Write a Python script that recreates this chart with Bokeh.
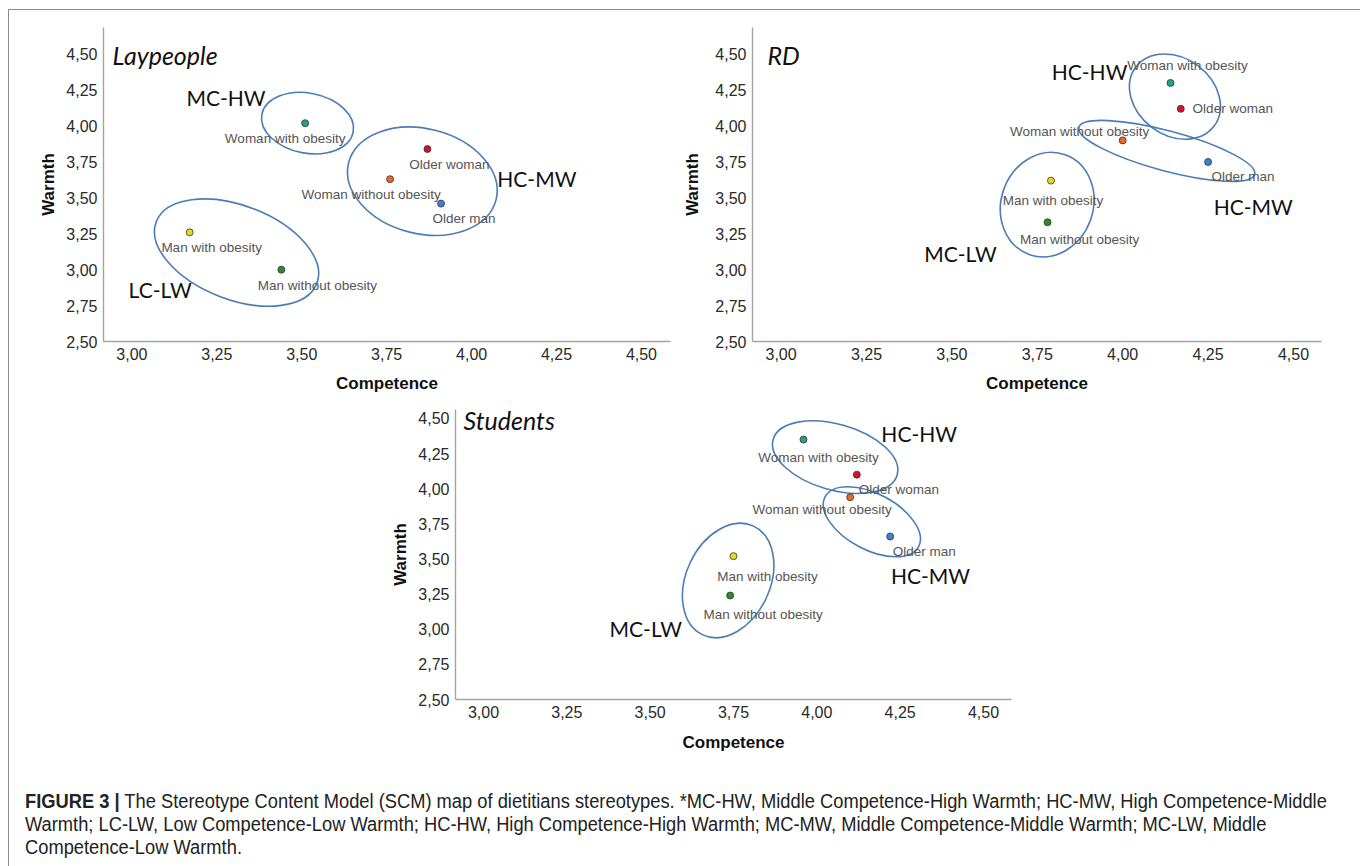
from bokeh.plotting import figure
from bokeh.layouts import column, row
from bokeh.models import FixedTicker, ColumnDataSource, Div, Range1d
from bokeh.embed import file_html
from bokeh.resources import INLINE
from bokeh.core.properties import value

# ---------------- data ----------------
stereotypes = ["Woman with obesity", "Older woman", "Woman without obesity",
               "Older man", "Man with obesity", "Man without obesity"]
point_colors = ["#1fa38c", "#d2122e", "#e86a2c", "#3e7fd6", "#e6d81e", "#2b8a2b"]

tick_values = [2.50, 2.75, 3.00, 3.25, 3.50, 3.75, 4.00, 4.25, 4.50]
tick_labels = ["2,50", "2,75", "3,00", "3,25", "3,50", "3,75", "4,00", "4,25", "4,50"]

# Laypeople
lay_competence = [3.51, 3.87, 3.76, 3.91, 3.17, 3.44]
lay_warmth = [4.02, 3.84, 3.63, 3.46, 3.26, 3.00]
lay_groups = ["MC-HW", "HC-MW", "LC-LW"]
lay_group_cx = [3.517, 3.855, 3.308]
lay_group_cy = [4.020, 3.616, 3.119]
lay_group_lx = [3.277, 4.192, 3.083]
lay_group_ly = [4.199, 3.633, 2.861]

# RD
rd_competence = [4.14, 4.17, 4.00, 4.25, 3.79, 3.78]
rd_warmth = [4.30, 4.12, 3.90, 3.75, 3.62, 3.33]
rd_groups = ["HC-HW", "HC-MW", "MC-LW"]
rd_group_cx = [4.153, 4.129, 3.779]
rd_group_cy = [4.205, 3.827, 3.453]
rd_group_lx = [3.903, 4.382, 3.525]
rd_group_ly = [4.378, 3.438, 3.113]

# Students
stu_competence = [3.96, 4.12, 4.10, 4.22, 3.75, 3.74]
stu_warmth = [4.35, 4.10, 3.94, 3.66, 3.52, 3.24]
stu_groups = ["HC-HW", "HC-MW", "MC-LW"]
stu_group_cx = [4.055, 4.165, 3.734]
stu_group_cy = [4.225, 3.765, 3.347]
stu_group_lx = [4.307, 4.341, 3.487]
stu_group_ly = [4.391, 3.383, 3.003]

caption_bold = "FIGURE 3 |"
caption_lines = [
    " The Stereotype Content Model (SCM) map of dietitians stereotypes. *MC-HW, Middle Competence-High Warmth; HC-MW, High Competence-Middle",
    "Warmth; LC-LW, Low Competence-Low Warmth; HC-HW, High Competence-High Warmth; MC-MW, Middle Competence-Middle Warmth; MC-LW, Middle",
    "Competence-Low Warmth.",
]

# ---------------- styles ----------------
ELL_COLOR = "#4a7db5"
AXIS_COLOR = "#a3a3a3"
TICK_FONT = "Liberation Sans"

lay_style = dict(
    ell_w=[93, 152, 172], ell_h=[60, 105, 94], ell_a=[-11, -14, -21],
    lab_dx=[-20, 22, -19, 23, 22, 36], lab_dy=[15, 15, 15, 15, 15, 16],
    width=672, height=388, mbl=95, mbr=10, mbt=18, mbb=56,
    xr=(2.9164, 4.5855), yr=(2.50, 4.686), title_dx=9, title_dy=27,
    ylab_standoff=5, xlab_standoff=11,
)
rd_style = dict(
    ell_w=[98, 182, 106], ell_h=[77, 40, 92], ell_a=[-37, -15, 70],
    lab_dx=[17, 52, -43, 35, 2, 32], lab_dy=[-17, 0, -9, 15, 20, 17],
    width=672, height=388, mbl=70, mbr=31, mbt=18, mbb=56,
    xr=(2.9163, 4.582), yr=(2.50, 4.686), title_dx=15, title_dy=27,
    ylab_standoff=10, xlab_standoff=11,
)
stu_style = dict(
    ell_w=[129, 106, 120], ell_h=[66, 56, 84], ell_a=[-16, -28, 65],
    lab_dx=[15, 42, -28, 34, 34, 33], lab_dy=[18, 15, 12, 15, 20, 19],
    width=1344, height=369, mbl=447, mbr=341, mbt=12, mbb=67,
    xr=(2.916, 4.584), yr=(2.50, 4.564), title_dx=8, title_dy=10,
    ylab_standoff=5, xlab_standoff=12,
)


def make_panel(title, comp, warm, groups, gcx, gcy, glx, gly, st):
    p = figure(width=st["width"], height=st["height"],
               x_range=Range1d(*st["xr"]), y_range=Range1d(*st["yr"]),
               output_backend="svg", toolbar_location=None,
               min_border_left=st["mbl"], min_border_right=st["mbr"],
               min_border_top=st["mbt"], min_border_bottom=st["mbb"],
               background_fill_color=None, border_fill_color=None,
               outline_line_color=None)
    p.grid.visible = False
    for ax in (p.xaxis[0], p.yaxis[0]):
        ax.ticker = FixedTicker(ticks=tick_values)
        ax.major_label_overrides = dict(zip(tick_values, tick_labels))
        ax.major_tick_line_color = None
        ax.minor_tick_line_color = None
        ax.major_tick_out = 0
        ax.major_tick_in = 0
        ax.axis_line_color = AXIS_COLOR
        ax.axis_line_width = 1.4
        ax.major_label_text_font = TICK_FONT
        ax.major_label_text_font_size = "16px"
        ax.major_label_text_color = "#2a2a2a"
        ax.axis_label_text_font = TICK_FONT
        ax.axis_label_text_font_size = "17px"
        ax.axis_label_text_font_style = "bold"
        ax.axis_label_text_color = "#111111"
    p.xaxis.axis_label = "Competence"
    p.yaxis.axis_label = "Warmth"
    p.xaxis.major_label_standoff = 6
    p.xaxis.axis_label_standoff = st["xlab_standoff"]
    p.yaxis.major_label_standoff = 6
    p.yaxis.axis_label_standoff = st["ylab_standoff"]

    ell = ColumnDataSource(dict(cx=gcx, cy=gcy, w=st["ell_w"], h=st["ell_h"], a=st["ell_a"]))
    p.ellipse(x="cx", y="cy", width="w", height="h", angle="a", angle_units="deg",
              width_units="screen", height_units="screen", source=ell,
              fill_color=None, line_color=ELL_COLOR, line_width=1.6)

    pts = ColumnDataSource(dict(x=comp, y=warm, name=stereotypes, color=point_colors,
                                dx=st["lab_dx"], dy=st["lab_dy"]))
    p.scatter(x="x", y="y", source=pts, size=7, fill_color="color",
              line_color="#333333", line_width=0.8)
    p.text(x="x", y="y", text="name", source=pts, x_offset="dx", y_offset="dy",
           text_font=value("Liberation Sans"), text_font_size="13.5px",
           text_color="#555555", text_align="center", text_baseline="middle")

    grp = ColumnDataSource(dict(x=glx, y=gly, t=groups))
    p.text(x="x", y="y", text="t", source=grp, text_font=value("Lato"),
           text_font_size="21px", text_color="#111111",
           text_align="center", text_baseline="middle")

    p.text(x=[st["xr"][0]], y=[st["yr"][1]], text=[title],
           x_offset=st["title_dx"], y_offset=st["title_dy"],
           text_font=value("Lato"), text_font_style="italic",
           text_font_size="25px", text_color="#111111",
           text_align="left", text_baseline="alphabetic")
    return p


p1 = make_panel("Laypeople", lay_competence, lay_warmth, lay_groups,
                lay_group_cx, lay_group_cy, lay_group_lx, lay_group_ly, lay_style)
p2 = make_panel("RD", rd_competence, rd_warmth, rd_groups,
                rd_group_cx, rd_group_cy, rd_group_lx, rd_group_ly, rd_style)
p3 = make_panel("Students", stu_competence, stu_warmth, stu_groups,
                stu_group_cx, stu_group_cy, stu_group_lx, stu_group_ly, stu_style)

cap_html = ('<div style="font-family:\'Liberation Sans\',sans-serif;'
            'font-size:20px;line-height:23px;color:#222;white-space:nowrap;'
            'display:inline-block;transform:scaleX(0.915);transform-origin:0 0;'
            'margin:19px 0 0 12px;">'
            '<b>' + caption_bold + '</b>' + caption_lines[0] + '<br>' +
            caption_lines[1] + '<br>' + caption_lines[2] + '</div>')
cap = Div(text=cap_html, width=1344, height=91)

layout = column(row(p1, p2), p3, cap,
                styles={"box-shadow": "inset 1px 1px 0 #8c8c8c, inset -1px 0 0 #8c8c8c",
                        "margin-left": "8px", "margin-top": "9px"})

open("out.html", "w").write(file_html(layout, INLINE))
